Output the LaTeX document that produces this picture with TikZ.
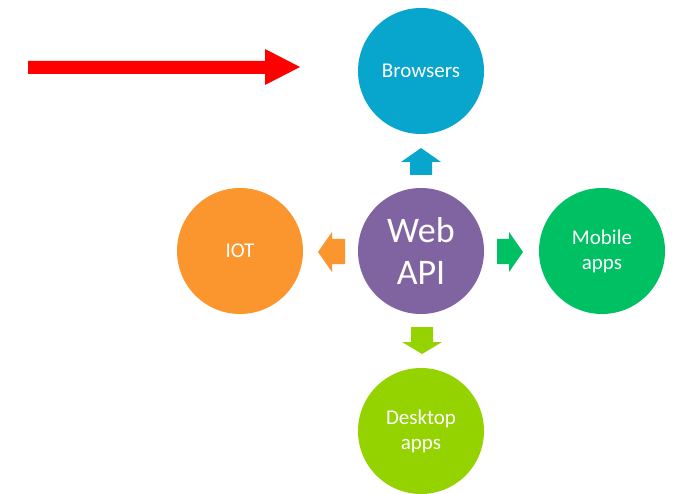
\documentclass[tikz,border=0pt]{standalone}
\usepackage{fontspec}
\setmainfont{Carlito}
\definecolor{cBrow}{RGB}{8,166,204}
\definecolor{cWeb}{RGB}{128,100,162}
\definecolor{cIot}{RGB}{250,150,45}
\definecolor{cMob}{RGB}{0,192,100}
\definecolor{cDesk}{RGB}{148,210,0}
\definecolor{cRed}{RGB}{255,0,0}
\begin{document}
\begin{tikzpicture}[x=1pt,y=-1pt,
  bubble/.style={circle,minimum size=126pt,inner sep=0pt,text=white,align=center,
    font=\fontsize{21}{25}\selectfont},
  bigbubble/.style={bubble,font=\fontsize{36}{42}\selectfont}]
\useasboundingbox[fill=white] (0,0) rectangle (674,494);
\node[bubble,fill=cBrow] (brow) at (421,71) {Browsers};
\node[bigbubble,fill=cWeb] (web) at (421,251) {Web\\API};
\node[bubble,fill=cIot] (iot) at (240,251) {IOT};
\node[bubble,fill=cMob] (mob) at (602,251) {Mobile\\apps};
\node[bubble,fill=cDesk] (desk) at (421,431) {Desktop\\apps};
% block arrows
\fill[cBrow] (421,148) -- (441,162) -- (432,162) -- (432,175) -- (410,175) -- (410,162) -- (401,162) -- cycle;
\fill[cIot] (318,252) -- (332,232) -- (332,239) -- (345,239) -- (345,264) -- (332,264) -- (332,272) -- cycle;
\fill[cMob] (523,252) -- (509,232) -- (509,239) -- (497,239) -- (497,264) -- (509,264) -- (509,272) -- cycle;
\fill[cDesk] (422,354) -- (442,342) -- (433,342) -- (433,327) -- (411,327) -- (411,342) -- (402,342) -- cycle;
% red arrow
\coordinate (rs) at (28,67);
\coordinate (rt) at (300,67);
\fill[cRed] (28,61) -- (265,61) -- (265,49) -- (300,67) -- (265,85) -- (265,74) -- (28,74) -- cycle;
\end{tikzpicture}
\end{document}
